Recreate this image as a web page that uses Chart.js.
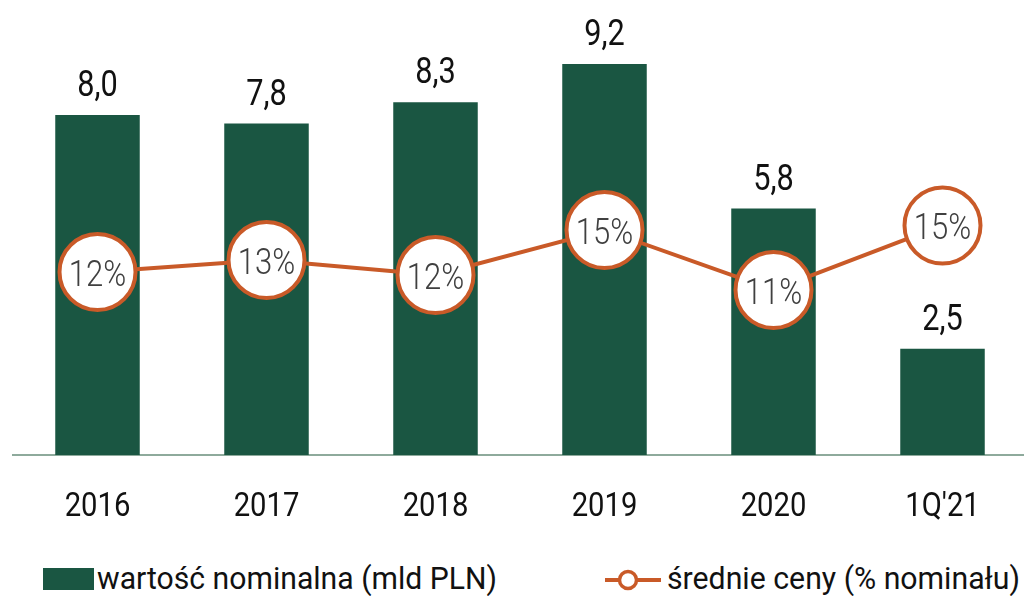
<!DOCTYPE html>
<html>
<head>
<meta charset="utf-8">
<script src="https://cdn.jsdelivr.net/npm/chart.js@4.4.1/dist/chart.umd.min.js"></script>
<style>
  html, body { margin: 0; padding: 0; background: #ffffff; overflow: hidden; width: 1024px; height: 596px; }
  #wrap { position: absolute; left: 0; top: 0; width: 1027px; height: 525px; }
  .leg { position: absolute; top: 561px; height: 36px; font-family: Roboto, "Liberation Sans", sans-serif; font-size: 31px; color: #111; line-height: 36px; white-space: nowrap; transform-origin: 0 0; }
  .box { position: absolute; left: 43px; top: 568px; width: 51px; height: 22px; background: #1a5642; }
</style>
</head>
<body>
<div id="wrap"><canvas id="c"></canvas></div>
<div class="box"></div>
<div class="leg" id="leg1" style="left:97px;"></div>
<svg style="position:absolute;left:603px;top:567px;" width="60" height="26">
  <line x1="2" y1="13" x2="58" y2="13" stroke="#c95a28" stroke-width="4"/>
  <circle cx="25" cy="13" r="8.5" fill="#ffffff" stroke="#c95a28" stroke-width="3.5"/>
</svg>
<div class="leg" id="leg2" style="left:667px;"></div>
<script>
const categories = ["2016", "2017", "2018", "2019", "2020", "1Q'21"];
const nominalValue = [8.0, 7.8, 8.3, 9.2, 5.8, 2.5];
const avgPrice = [12.2, 13.0, 12.0, 15.0, 11.0, 15.3];
const priceLabels = ["12%", "13%", "12%", "15%", "11%", "15%"];
const seriesNames = ["wartość nominalna (mld PLN)", "średnie ceny (% nominału)"];

function fitLegend(id, text, targetWidth) {
  const el = document.getElementById(id);
  el.textContent = text;
  const w = el.getBoundingClientRect().width;
  el.style.transform = 'scaleX(' + (targetWidth / w) + ')';
}
fitLegend('leg1', seriesNames[0], 400);
fitLegend('leg2', seriesNames[1], 353);

const FONT = 'Roboto, "Liberation Sans", sans-serif';
const GREEN = '#1a5642';
const ORANGE = '#c95a28';

function narrowText(ctx, text, x, y, sx) {
  ctx.save();
  ctx.translate(x, y);
  ctx.scale(sx, 1);
  ctx.fillText(text, 0, 0);
  ctx.restore();
}

const labelPlugin = {
  id: 'labels',
  afterDatasetsDraw(chart) {
    const ctx = chart.ctx;
    ctx.save();
    ctx.textAlign = 'center';
    ctx.textBaseline = 'alphabetic';
    const barMeta = chart.getDatasetMeta(1);
    ctx.font = '400 37px ' + FONT;
    ctx.fillStyle = '#111111';
    barMeta.data.forEach((el, i) => {
      narrowText(ctx, nominalValue[i].toFixed(1).replace('.', ','), el.x, el.y - 19, 0.83);
    });
    const lineMeta = chart.getDatasetMeta(0);
    ctx.font = '300 37px ' + FONT;
    ctx.fillStyle = '#404040';
    lineMeta.data.forEach((el, i) => {
      narrowText(ctx, priceLabels[i], el.x, el.y + 14, 0.84);
    });
    // category labels under the axis
    const xs = chart.scales.x;
    const axisY = chart.chartArea.bottom;
    ctx.font = '400 34px ' + FONT;
    ctx.fillStyle = '#111111';
    categories.forEach((c, i) => {
      narrowText(ctx, c, xs.getPixelForValue(i), axisY + 61, 0.86);
    });
    ctx.restore();
  }
};

new Chart(document.getElementById('c'), {
  data: {
    labels: categories,
    datasets: [
      {
        type: 'line',
        label: seriesNames[1],
        data: avgPrice,
        yAxisID: 'y2',
        borderColor: ORANGE,
        borderWidth: 4,
        pointRadius: 38,
        pointHoverRadius: 38,
        pointBorderWidth: 4,
        pointBackgroundColor: '#ffffff',
        pointBorderColor: ORANGE,
        tension: 0,
        order: 0
      },
      {
        type: 'bar',
        label: seriesNames[0],
        data: nominalValue,
        yAxisID: 'y',
        backgroundColor: GREEN,
        categoryPercentage: 1.0,
        barPercentage: 0.5,
        order: 1
      }
    ]
  },
  options: {
    responsive: true,
    maintainAspectRatio: false,
    animation: false,
    events: [],
    layout: { autoPadding: false, padding: { left: 13, right: 0, top: 0, bottom: 70 } },
    plugins: { legend: { display: false }, tooltip: { enabled: false } },
    scales: {
      x: {
        grid: { display: false, drawTicks: false },
        border: { display: true, color: '#8eaa9c', width: 2 },
        ticks: { display: false }
      },
      y: { display: false, min: 0, max: 10.706 },
      y2: { display: false, min: 0, max: 30.33 }
    }
  },
  plugins: [labelPlugin]
});
</script>
</body>
</html>
